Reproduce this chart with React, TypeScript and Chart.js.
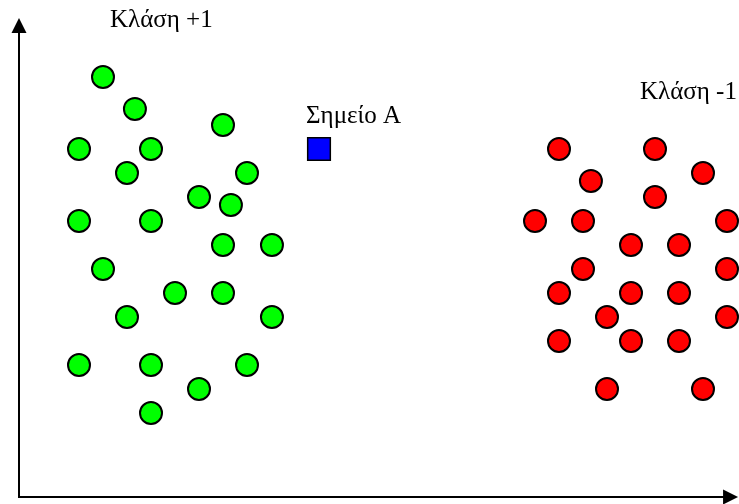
import React, { useEffect, useRef } from "react";
import { Chart, registerables } from "chart.js";

Chart.register(...registerables);

// Class +1 (green) points, in grid units (1 unit = one grid step)
const classPlusX = [3.5, 4.83, 8.5, 2.5, 5.5, 4.5, 9.5, 7.5, 8.83, 2.5, 5.5, 8.5, 10.54, 3.5, 6.5, 8.5, 4.5, 10.54, 2.5, 5.5, 9.5, 7.5, 5.5];
const classPlusY = [17.5, 16.17, 15.5, 14.5, 14.5, 13.5, 13.5, 12.5, 12.17, 11.5, 11.5, 10.5, 10.5, 9.5, 8.5, 8.5, 7.5, 7.5, 5.5, 5.5, 5.5, 4.5, 3.5];

// Class -1 (red) points
const classMinusX = [22.5, 26.5, 23.83, 28.5, 26.5, 21.5, 23.5, 29.5, 25.5, 27.5, 23.5, 29.5, 22.5, 25.5, 27.5, 24.5, 29.5, 22.5, 25.5, 27.5, 24.5, 28.5];
const classMinusY = [14.5, 14.5, 13.17, 13.5, 12.5, 11.5, 11.5, 11.5, 10.5, 10.5, 9.5, 9.5, 8.5, 8.5, 8.5, 7.5, 7.5, 6.5, 6.5, 6.5, 4.5, 4.5];

// Point A (blue square)
const pointAX = [12.5];
const pointAY = [14.5];

// Text labels
const labelTexts = ["Κλάση +1", "Σημείο Α", "Κλάση -1"];
const labelX = [3.79, 11.96, 25.875];
const labelY = [19.58, 15.58, 16.58];

// Axis extents
const X_MIN = -19 / 24;
const X_MAX = 30;
const Y_MIN = -7 / 24;
const Y_MAX = 497 / 24;
const X_AXIS_END = 29.96;
const Y_AXIS_END = 19.96;

const toPoints = (xs: number[], ys: number[]) => xs.map((x, i) => ({ x, y: ys[i] }));

const decorPlugin = {
  id: "decor",
  afterDatasetsDraw(chart: any) {
    const ctx = chart.ctx as CanvasRenderingContext2D;
    const xs = chart.scales.x;
    const ys = chart.scales.y;
    const ox = Math.round(xs.getPixelForValue(0));
    const oy = Math.round(ys.getPixelForValue(0));
    const yTop = ys.getPixelForValue(Y_AXIS_END);
    const xRight = xs.getPixelForValue(X_AXIS_END);
    ctx.save();
    ctx.strokeStyle = "#000";
    ctx.fillStyle = "#000";
    ctx.lineWidth = 2;
    // vertical axis
    ctx.beginPath();
    ctx.moveTo(ox, oy);
    ctx.lineTo(ox, yTop + 14);
    ctx.stroke();
    ctx.beginPath();
    ctx.moveTo(ox, yTop);
    ctx.lineTo(ox - 7.5, yTop + 15);
    ctx.lineTo(ox + 7.5, yTop + 15);
    ctx.closePath();
    ctx.fill();
    // horizontal axis
    ctx.beginPath();
    ctx.moveTo(ox - 1, oy);
    ctx.lineTo(xRight - 14, oy);
    ctx.stroke();
    ctx.beginPath();
    ctx.moveTo(xRight, oy);
    ctx.lineTo(xRight - 15, oy - 7.5);
    ctx.lineTo(xRight - 15, oy + 7.5);
    ctx.closePath();
    ctx.fill();
    // labels
    ctx.font = "25px 'Liberation Serif', 'Times New Roman', serif";
    ctx.textAlign = "left";
    ctx.textBaseline = "alphabetic";
    labelTexts.forEach((t, i) => {
      ctx.fillText(t, xs.getPixelForValue(labelX[i]), ys.getPixelForValue(labelY[i]));
    });
    ctx.restore();
  },
};

export default function App() {
  const canvasRef = useRef<HTMLCanvasElement | null>(null);

  useEffect(() => {
    if (!canvasRef.current) return;
    const chart = new Chart(canvasRef.current, {
      type: "scatter",
      data: {
        datasets: [
          {
            label: "Κλάση +1",
            data: toPoints(classPlusX, classPlusY),
            backgroundColor: "#00FF00",
            borderColor: "#000000",
            borderWidth: 2,
            pointRadius: 11,
            pointHoverRadius: 11,
          },
          {
            label: "Κλάση -1",
            data: toPoints(classMinusX, classMinusY),
            backgroundColor: "#FF0000",
            borderColor: "#000000",
            borderWidth: 2,
            pointRadius: 11,
            pointHoverRadius: 11,
          },
          {
            label: "Σημείο Α",
            data: toPoints(pointAX, pointAY),
            backgroundColor: "#0000FF",
            borderColor: "#000000",
            borderWidth: 1.5,
            pointStyle: "rect",
            pointRadius: 16,
            pointHoverRadius: 16,
          },
        ],
      },
      options: {
        animation: false,
        responsive: false,
        maintainAspectRatio: false,
        devicePixelRatio: 1,
        layout: { padding: 0, autoPadding: false },
        plugins: {
          legend: { display: false },
          tooltip: { enabled: false },
          title: { display: false },
        },
        scales: {
          x: { type: "linear", display: false, min: X_MIN, max: X_MAX },
          y: { type: "linear", display: false, min: Y_MIN, max: Y_MAX },
        },
      },
      plugins: [decorPlugin],
    });
    return () => chart.destroy();
  }, []);

  return (
    <div style={{ position: "absolute", left: 0, top: 0, width: 739, height: 504, background: "#fff" }}>
      <canvas ref={canvasRef} width={739} height={504} style={{ display: "block" }} />
    </div>
  );
}
